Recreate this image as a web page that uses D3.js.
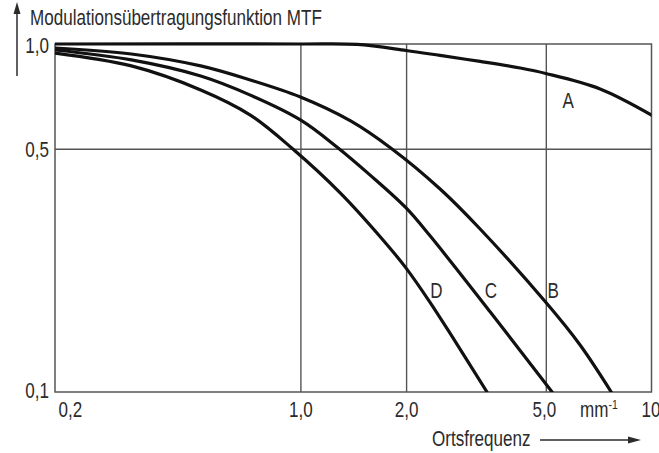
<!DOCTYPE html>
<html><head><meta charset="utf-8">
<script src="https://cdn.jsdelivr.net/npm/d3@7"></script>
<style>
html,body{margin:0;padding:0;background:#fff;}
text{font-family:"Liberation Sans",Arial,sans-serif;fill:#2b2b2b;}
</style></head>
<body><svg id="c" width="659" height="453"></svg>
<script>
// ---- data ----
const xTickValues = [0.2, 1, 2, 5, 10];
const xTickLabels = ["0,2", "1,0", "2,0", "5,0", "10"];
const yTickValues = [0.1, 0.5, 1.0];
const yTickLabels = ["0,1", "0,5", "1,0"];
const xGrid = [1, 2, 5];
const yGrid = [0.5];

const freqA = [0.2, 1.0, 1.45, 2.0, 2.5, 3.25, 4.23, 5.0, 7.14, 10];
const mtfA  = [1.0, 1.0, 0.997, 0.958, 0.927, 0.891, 0.853, 0.823, 0.743, 0.625];
const freqB = [0.2, 0.33, 0.52, 0.72, 1.0, 1.39, 1.82, 2.5, 3.25, 5.0, 6.26, 7.68];
const mtfB  = [0.974, 0.936, 0.865, 0.788, 0.704, 0.601, 0.5, 0.383, 0.294, 0.181, 0.1365, 0.1];
const freqC = [0.2, 0.33, 0.52, 0.72, 1.0, 1.27, 1.58, 2.0, 2.34, 3.47, 5.21];
const mtfC  = [0.961, 0.900, 0.809, 0.713, 0.605, 0.506, 0.420, 0.338, 0.281, 0.170, 0.1];
const freqD = [0.2, 0.33, 0.52, 0.72, 0.95, 1.30, 1.69, 2.0, 2.34, 2.72, 3.40];
const mtfD  = [0.942, 0.865, 0.738, 0.625, 0.5, 0.373, 0.279, 0.227, 0.181, 0.143, 0.1];

const seriesNames = ["A", "B", "C", "D"];
const labelPos = { A: [5.79, 0.69], B: [5.25, 0.197], C: [3.49, 0.197], D: [2.44, 0.197] };

const yTitle = "Modulationsübertragungsfunktion MTF";
const xTitle = "Ortsfrequenz";
const xUnit = "mm";

// ---- layout ----
const L = 55, R = 651.5, T = 44, B = 392;
const FS = 22;
const svg = d3.select("#c");
const x = d3.scaleLog().domain([0.2, 10]).range([L, R]);
const y = d3.scaleLog().domain([0.1, 1.0]).range([B, T]);

// gridlines
const gx = svg.append("g").attr("transform", `translate(0,${B})`)
  .call(d3.axisBottom(x).tickValues(xGrid).tickSize(-(B - T)).tickFormat(""));
const gy = svg.append("g").attr("transform", `translate(${L},0)`)
  .call(d3.axisLeft(y).tickValues(yGrid).tickSize(-(R - L)).tickFormat(""));
[gx, gy].forEach(g => {
  g.select(".domain").remove();
  g.selectAll("line").attr("stroke", "#555").attr("stroke-width", 1.4);
});

// frame
svg.append("rect").attr("x", L).attr("y", T).attr("width", R - L).attr("height", B - T)
  .attr("fill", "none").attr("stroke", "#555").attr("stroke-width", 1.5);

// tick labels via axes
const ax = svg.append("g").attr("transform", `translate(0,${B})`)
  .call(d3.axisBottom(x).tickValues(xTickValues).tickSize(0)
    .tickFormat((d, i) => xTickLabels[i]));
ax.select(".domain").remove();
ax.attr("font-family", null).attr("font-size", null);
ax.selectAll("text").attr("font-size", FS).attr("dy", 0).attr("y", 25.5)
  .attr("fill", "#2b2b2b")
  .attr("text-anchor", (d, i) => i === 0 ? "start" : "middle")
  .attr("x", (d, i) => i === 0 ? 3 : (i === xTickValues.length - 1 ? -1 : (i === 3 ? -2 : 0)));

const ay = svg.append("g").attr("transform", `translate(${L},0)`)
  .call(d3.axisLeft(y).tickValues(yTickValues).tickSize(0)
    .tickFormat((d, i) => yTickLabels[i]));
ay.select(".domain").remove();
ay.attr("font-family", null).attr("font-size", null);
ay.selectAll("text").attr("font-size", FS).attr("x", -6).attr("dy", 0).attr("y", 8)
  .attr("fill", "#2b2b2b");
ay.selectAll(".tick").filter(d => d === 0.1).select("text").attr("y", 5);

// unit label mm^-1
const u = svg.append("text").attr("x", 580).attr("y", B + 25.5).attr("font-size", FS)
  .attr("text-anchor", "start");
u.append("tspan").text(xUnit);
u.append("tspan").attr("font-size", 13.5).attr("dy", -8).text("-1");

// curves
const line = d3.line().x(d => x(d[0])).y(d => y(d[1])).curve(d3.curveCatmullRom.alpha(0.5));
svg.append("clipPath").attr("id", "clip").append("rect")
  .attr("x", L).attr("y", T - 2).attr("width", R - L).attr("height", B - T + 2);
const allSeries = [[freqA, mtfA], [freqB, mtfB], [freqC, mtfC], [freqD, mtfD]];
allSeries.forEach(([f, m]) => {
  svg.append("path").datum(f.map((v, i) => [v, m[i]]))
    .attr("d", line).attr("fill", "none").attr("stroke", "#111")
    .attr("stroke-width", 3.2).attr("stroke-linecap", "round").attr("clip-path", "url(#clip)");
});

// series labels
seriesNames.forEach(n => {
  svg.append("text").attr("class", "lbl").attr("x", x(labelPos[n][0])).attr("y", y(labelPos[n][1]) + 8)
    .attr("font-size", FS).attr("text-anchor", "middle").text(n);
});

// y title and arrow
const yt = svg.append("text").attr("x", 30).attr("y", 25.5).attr("font-size", FS).text(yTitle);
svg.append("line").attr("x1", 17).attr("x2", 17).attr("y1", 76).attr("y2", 10)
  .attr("stroke", "#2b2b2b").attr("stroke-width", 1.5);
svg.append("path").attr("d", "M17,2 L13.5,14 L20.5,14 Z").attr("fill", "#2b2b2b");

// x title and arrow
svg.append("text").attr("x", 432).attr("y", 446).attr("font-size", FS).text(xTitle);
svg.append("line").attr("x1", 540).attr("x2", 630).attr("y1", 440).attr("y2", 440)
  .attr("stroke", "#2b2b2b").attr("stroke-width", 1.5);
svg.append("path").attr("d", "M641,440 L628,436.5 L628,443.5 Z").attr("fill", "#2b2b2b");

// condense all text horizontally (narrow typeface look)
const k = 292 / yt.node().getComputedTextLength();
svg.selectAll("text").each(function () {
  const ax0 = +this.getAttribute("x") || 0, ay0 = +this.getAttribute("y") || 0;
  this.setAttribute("transform", `translate(${ax0},${ay0}) scale(${k},1) translate(${-ax0},${-ay0})`);
});
</script></body></html>
